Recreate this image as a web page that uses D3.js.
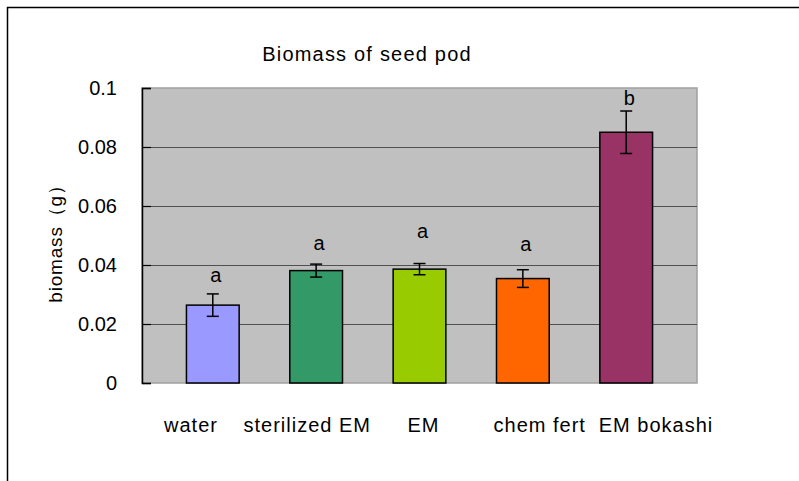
<!DOCTYPE html>
<html>
<head>
<meta charset="utf-8">
<script src="https://cdn.jsdelivr.net/npm/d3@7/dist/d3.min.js"></script>
<style>
  html, body { margin: 0; padding: 0; background: #fff; }
  text { font-family: "Liberation Sans", Arial, sans-serif; fill: #000; }
</style>
</head>
<body>
<svg id="chart" width="799" height="481"></svg>
<script>
const categories = ["water", "sterilized EM", "EM", "chem fert", "EM bokashi"];
const values = [0.0264, 0.0381, 0.0386, 0.0354, 0.0850];
const errors = [0.0038, 0.0022, 0.0019, 0.0030, 0.0072];
const letters = ["a", "a", "a", "a", "b"];
const letterLevels = [0.0342, 0.0451, 0.0492, 0.0448, 0.0942];
const barColors = ["#9999FF", "#339966", "#99CC00", "#FF6600", "#993366"];
const yTicks = [0, 0.02, 0.04, 0.06, 0.08, 0.1];
const yTickLabels = ["0", "0.02", "0.04", "0.06", "0.08", "0.1"];
const title = "Biomass of seed pod";
const yTitle = "biomass（g）";

const svg = d3.select("#chart");
const plot = { left: 142, right: 697, top: 88, bottom: 383 };

// outer frame (extends beyond the window on right and bottom)
svg.append("rect")
  .attr("x", 7.5).attr("y", 7.5)
  .attr("width", 900).attr("height", 600)
  .attr("fill", "#fff").attr("stroke", "#000").attr("stroke-width", 1.5);

const x = d3.scaleBand().domain(categories)
  .range([plot.left, plot.right]).paddingInner(0.49).paddingOuter(0.43);
const xLabel = d3.scalePoint().domain(categories).range([191, 656]);
const y = d3.scaleLinear().domain([0, 0.1]).range([plot.bottom, plot.top]);

// plot background
svg.append("rect")
  .attr("x", plot.left).attr("y", plot.top)
  .attr("width", plot.right - plot.left).attr("height", plot.bottom - plot.top)
  .attr("fill", "#C0C0C0").attr("stroke", "#a0a0a0").attr("stroke-width", 1.5);

// gridlines
const grid = svg.append("g").attr("transform", `translate(${plot.left},0)`)
  .call(d3.axisLeft(y).tickValues(yTicks.slice(1, -1)).tickSize(-(plot.right - plot.left)).tickFormat(""));
grid.select(".domain").remove();
grid.selectAll(".tick line").attr("stroke", "#505050").attr("stroke-width", 1.2);

// y axis
const yAxis = svg.append("g").attr("transform", `translate(${plot.left},0)`)
  .call(d3.axisLeft(y).tickValues(yTicks).tickSize(-9).tickPadding(25)
    .tickFormat((d, i) => yTickLabels[i]));
yAxis.select(".domain").attr("stroke", "#000").attr("stroke-width", 1.5);
yAxis.selectAll(".tick line").attr("stroke", "#000").attr("stroke-width", 1.2);
yAxis.selectAll(".tick text").attr("font-size", 20)
  .style("font-family", "'Liberation Sans', Arial, sans-serif").attr("fill", "#000");

// bars
svg.append("g").selectAll("rect").data(categories).join("rect")
  .attr("x", d => x(d)).attr("width", x.bandwidth())
  .attr("y", (d, i) => y(values[i]))
  .attr("height", (d, i) => y(0) - y(values[i]))
  .attr("fill", (d, i) => barColors[i])
  .attr("stroke", "#000").attr("stroke-width", 1.5);

// error bars
const eb = svg.append("g").attr("stroke", "#000").attr("stroke-width", 1.5);
categories.forEach((c, i) => {
  const cx = x(c) + x.bandwidth() / 2;
  const top = y(values[i] + errors[i]);
  const bot = y(values[i] - errors[i]);
  eb.append("line").attr("x1", cx).attr("x2", cx).attr("y1", top).attr("y2", bot);
  eb.append("line").attr("x1", cx - 6).attr("x2", cx + 6).attr("y1", top).attr("y2", top);
  eb.append("line").attr("x1", cx - 6).attr("x2", cx + 6).attr("y1", bot).attr("y2", bot);
});

// significance letters
svg.append("g").selectAll("text").data(categories).join("text")
  .attr("x", d => x(d) + x.bandwidth() / 2 + 3)
  .attr("y", (d, i) => y(letterLevels[i]))
  .attr("text-anchor", "middle").attr("font-size", 20)
  .text((d, i) => letters[i]);

// x category labels
svg.append("g").selectAll("text").data(categories).join("text")
  .attr("x", d => xLabel(d)).attr("y", 432)
  .attr("text-anchor", "middle").attr("font-size", 20).attr("letter-spacing", 1)
  .text(d => d);

// title
svg.append("text").attr("x", 367).attr("y", 61)
  .attr("text-anchor", "middle").attr("font-size", 20).attr("letter-spacing", 1.2)
  .text(title);

// y title
svg.append("text")
  .attr("transform", "translate(62,239) rotate(-90)")
  .attr("text-anchor", "middle").attr("font-size", 19).attr("letter-spacing", 0.8)
  .text(yTitle);
</script>
</body>
</html>
